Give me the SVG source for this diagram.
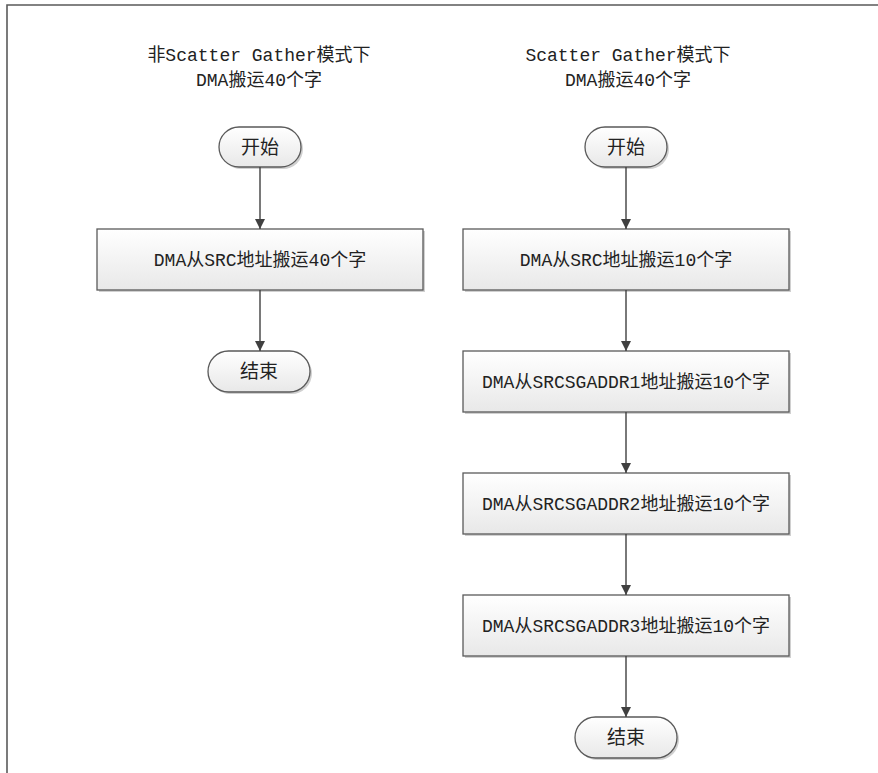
<svg xmlns="http://www.w3.org/2000/svg" width="878" height="773" viewBox="0 0 878 773">
<defs>
<linearGradient id="g" x1="0" y1="0" x2="0" y2="1">
<stop offset="0" stop-color="#ffffff"/>
<stop offset="1" stop-color="#e8e8e8"/>
</linearGradient>
<marker id="arr" markerWidth="10" markerHeight="10" refX="10" refY="5" orient="auto" markerUnits="userSpaceOnUse" viewBox="0 0 10 10">
<path d="M0,0 L10,5 L0,10 Z" fill="#404040"/>
</marker>
</defs>
<style>
.box{fill:url(#g);stroke:#5a5a5a;stroke-width:1.3}
.sh{fill:#d0d0d0}
.t{font-family:'Liberation Mono','Noto Sans CJK SC',monospace;font-size:18px;fill:#222;text-anchor:middle}
.tt{font-family:'Noto Sans CJK SC','Liberation Mono',sans-serif;font-size:19px;fill:#222;text-anchor:middle}
.c{stroke:#404040;stroke-width:1.4;fill:none;marker-end:url(#arr)}
</style>
<rect x="0" y="0" width="878" height="773" fill="#ffffff"/>
<path d="M7,773 L7,5 L878,5" fill="none" stroke="#5a5a5a" stroke-width="1.6"/>
<g id="title-left">
<text class="t" x="259" y="61">非Scatter Gather模式下</text>
<text class="t" x="259" y="86">DMA搬运40个字</text>
</g>
<g id="title-right">
<text class="t" x="628" y="61">Scatter Gather模式下</text>
<text class="t" x="628" y="86">DMA搬运40个字</text>
</g>
<g id="start-left">
<rect class="sh" x="221" y="129" width="82" height="40" rx="20"/>
<rect class="box" x="219" y="127" width="82" height="40" rx="20"/>
<text class="tt" x="260" y="154">开始</text>
</g>
<g id="box-left">
<rect class="sh" x="99" y="231" width="326" height="61"/>
<rect class="box" x="97" y="229" width="326" height="61"/>
<text class="t" x="260" y="266">DMA从SRC地址搬运40个字</text>
</g>
<g id="end-left">
<rect class="sh" x="210" y="353" width="102" height="41" rx="20.5"/>
<rect class="box" x="208" y="351" width="102" height="41" rx="20.5"/>
<text class="tt" x="259" y="378">结束</text>
</g>
<g id="start-right">
<rect class="sh" x="587" y="129" width="82" height="40" rx="20"/>
<rect class="box" x="585" y="127" width="82" height="40" rx="20"/>
<text class="tt" x="626" y="154">开始</text>
</g>
<g id="box-r1">
<rect class="sh" x="465" y="231" width="326" height="61"/>
<rect class="box" x="463" y="229" width="326" height="61"/>
<text class="t" x="626" y="266">DMA从SRC地址搬运10个字</text>
</g>
<g id="box-r2">
<rect class="sh" x="465" y="353" width="326" height="61"/>
<rect class="box" x="463" y="351" width="326" height="61"/>
<text class="t" x="626" y="388">DMA从SRCSGADDR1地址搬运10个字</text>
</g>
<g id="box-r3">
<rect class="sh" x="465" y="475" width="326" height="61"/>
<rect class="box" x="463" y="473" width="326" height="61"/>
<text class="t" x="626" y="510">DMA从SRCSGADDR2地址搬运10个字</text>
</g>
<g id="box-r4">
<rect class="sh" x="465" y="597" width="326" height="61"/>
<rect class="box" x="463" y="595" width="326" height="61"/>
<text class="t" x="626" y="632">DMA从SRCSGADDR3地址搬运10个字</text>
</g>
<g id="end-right">
<rect class="sh" x="577" y="719" width="102" height="41" rx="20.5"/>
<rect class="box" x="575" y="717" width="102" height="41" rx="20.5"/>
<text class="tt" x="626" y="744">结束</text>
</g>
<g id="connectors">
<line class="c" x1="260" y1="167" x2="260" y2="229"/>
<line class="c" x1="260" y1="290" x2="260" y2="351"/>
<line class="c" x1="626" y1="167" x2="626" y2="229"/>
<line class="c" x1="626" y1="290" x2="626" y2="351"/>
<line class="c" x1="626" y1="412" x2="626" y2="473"/>
<line class="c" x1="626" y1="534" x2="626" y2="595"/>
<line class="c" x1="626" y1="656" x2="626" y2="717"/>
</g>
</svg>
